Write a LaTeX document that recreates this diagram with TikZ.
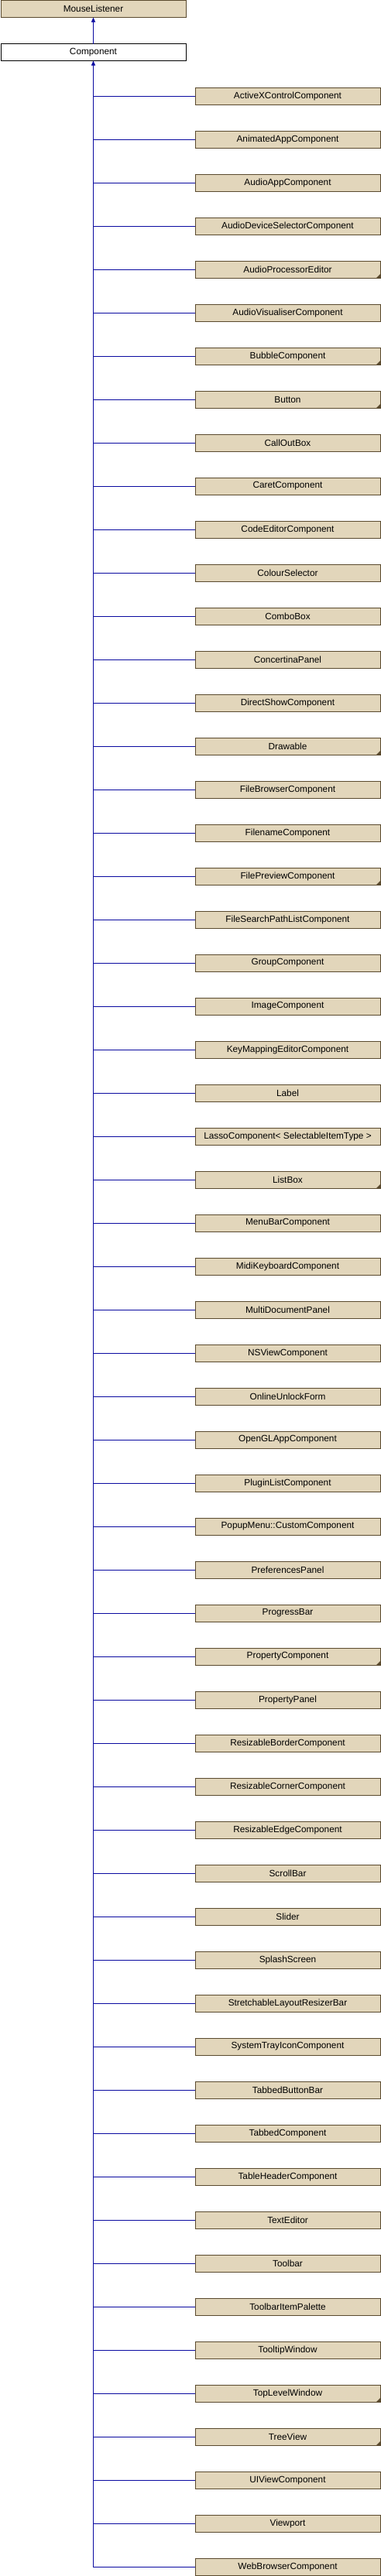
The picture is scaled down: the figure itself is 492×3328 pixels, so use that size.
\documentclass[tikz,border=0pt]{standalone}
\usepackage{fontspec}
\setmainfont{Liberation Sans}
\usetikzlibrary{positioning,arrows.meta}
\definecolor{boxfill}{HTML}{E2D6BB}
\definecolor{boxline}{HTML}{5A4A2E}
\definecolor{edgecol}{HTML}{0A0AA0}
\begin{document}
\begin{tikzpicture}[x = 1pt, y = -1pt, node distance = 56pt,
    cls/.style = {draw = boxline, fill = boxfill, line width = 1pt, inner sep = 0pt, outer sep = 0pt,
      minimum width = 239pt, minimum height = 22pt, font = \fontsize{11.8}{13}\selectfont},
    more/.style = {path picture = {\fill[boxline] ([xshift = -5pt]path picture bounding box.south east)
      -- (path picture bounding box.south east) -- ([yshift = 5pt]path picture bounding box.south east) -- cycle;}},
    inh/.style = {draw = edgecol, line width = 1pt, -{Triangle[width = 5pt, length = 6pt]}},
    bus/.style = {draw = edgecol, line width = 1pt}]
  \useasboundingbox (0,0) rectangle (492,3328);
  \node[cls, fill = white, draw = black] (comp) at (120.5,67.5) {Component};
  \node[cls] (ml) [above of = comp] {MouseListener};
  \node[cls] (c1) at (371.5,124) {ActiveXControlComponent};
  \node[cls] (c2) [below of = c1] {AnimatedAppComponent};
  \node[cls] (c3) [below of = c2] {AudioAppComponent};
  \node[cls] (c4) [below of = c3] {AudioDeviceSelectorComponent};
  \node[cls, more] (c5) [below of = c4] {AudioProcessorEditor};
  \node[cls] (c6) [below of = c5] {AudioVisualiserComponent};
  \node[cls, more] (c7) [below of = c6] {BubbleComponent};
  \node[cls, more] (c8) [below of = c7] {Button};
  \node[cls] (c9) [below of = c8] {CallOutBox};
  \node[cls] (c10) [below of = c9] {CaretComponent};
  \node[cls] (c11) [below of = c10] {CodeEditorComponent};
  \node[cls] (c12) [below of = c11] {ColourSelector};
  \node[cls] (c13) [below of = c12] {ComboBox};
  \node[cls] (c14) [below of = c13] {ConcertinaPanel};
  \node[cls] (c15) [below of = c14] {DirectShowComponent};
  \node[cls, more] (c16) [below of = c15] {Drawable};
  \node[cls] (c17) [below of = c16] {FileBrowserComponent};
  \node[cls] (c18) [below of = c17] {FilenameComponent};
  \node[cls, more] (c19) [below of = c18] {FilePreviewComponent};
  \node[cls] (c20) [below of = c19] {FileSearchPathListComponent};
  \node[cls] (c21) [below of = c20] {GroupComponent};
  \node[cls] (c22) [below of = c21] {ImageComponent};
  \node[cls] (c23) [below of = c22] {KeyMappingEditorComponent};
  \node[cls] (c24) [below of = c23] {Label};
  \node[cls] (c25) [below of = c24] {LassoComponent< SelectableItemType >};
  \node[cls, more] (c26) [below of = c25] {ListBox};
  \node[cls] (c27) [below of = c26] {MenuBarComponent};
  \node[cls] (c28) [below of = c27] {MidiKeyboardComponent};
  \node[cls] (c29) [below of = c28] {MultiDocumentPanel};
  \node[cls] (c30) [below of = c29] {NSViewComponent};
  \node[cls] (c31) [below of = c30] {OnlineUnlockForm};
  \node[cls] (c32) [below of = c31] {OpenGLAppComponent};
  \node[cls] (c33) [below of = c32] {PluginListComponent};
  \node[cls] (c34) [below of = c33] {PopupMenu::CustomComponent};
  \node[cls] (c35) [below of = c34] {PreferencesPanel};
  \node[cls] (c36) [below of = c35] {ProgressBar};
  \node[cls, more] (c37) [below of = c36] {PropertyComponent};
  \node[cls] (c38) [below of = c37] {PropertyPanel};
  \node[cls] (c39) [below of = c38] {ResizableBorderComponent};
  \node[cls] (c40) [below of = c39] {ResizableCornerComponent};
  \node[cls] (c41) [below of = c40] {ResizableEdgeComponent};
  \node[cls] (c42) [below of = c41] {ScrollBar};
  \node[cls] (c43) [below of = c42] {Slider};
  \node[cls] (c44) [below of = c43] {SplashScreen};
  \node[cls] (c45) [below of = c44] {StretchableLayoutResizerBar};
  \node[cls] (c46) [below of = c45] {SystemTrayIconComponent};
  \node[cls] (c47) [below of = c46] {TabbedButtonBar};
  \node[cls] (c48) [below of = c47] {TabbedComponent};
  \node[cls] (c49) [below of = c48] {TableHeaderComponent};
  \node[cls] (c50) [below of = c49] {TextEditor};
  \node[cls] (c51) [below of = c50] {Toolbar};
  \node[cls] (c52) [below of = c51] {ToolbarItemPalette};
  \node[cls] (c53) [below of = c52] {TooltipWindow};
  \node[cls, more] (c54) [below of = c53] {TopLevelWindow};
  \node[cls, more] (c55) [below of = c54] {TreeView};
  \node[cls] (c56) [below of = c55] {UIViewComponent};
  \node[cls] (c57) [below of = c56] {Viewport};
  \node[cls] (c58) [below of = c57] {WebBrowserComponent};
  \draw[inh] (comp) -- (ml);
  \draw[inh] (c58.west) -| (comp.south);
  \foreach \i in {1,...,57}
    \draw[bus] (c\i.west) -- (c\i.west -| comp.south);
\end{tikzpicture}
\end{document}
